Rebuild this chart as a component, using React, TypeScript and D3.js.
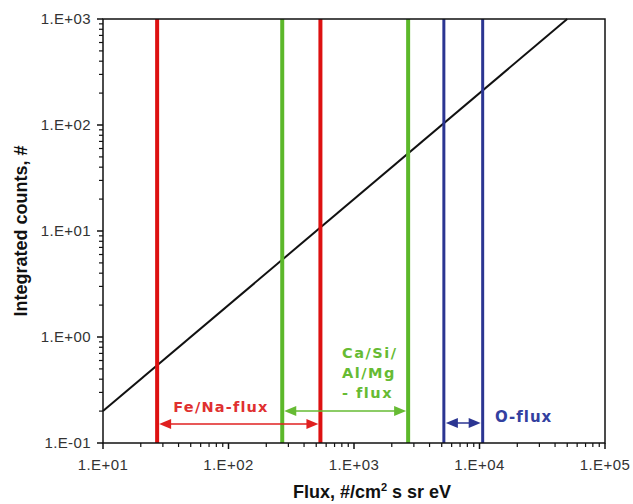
import React from "react";
import * as d3 from "d3";

const xTickValues = [1e1, 1e2, 1e3, 1e4, 1e5];
const xTickLabels = ["1.E+01", "1.E+02", "1.E+03", "1.E+04", "1.E+05"];
const yTickValues = [1e-1, 1e0, 1e1, 1e2, 1e3];
const yTickLabels = ["1.E-01", "1.E+00", "1.E+01", "1.E+02", "1.E+03"];
const lineFlux = [10, 50000];
const lineCounts = [0.2, 1000];
const redFlux = [27, 540];
const greenFlux = [268, 2700];
const blueFlux = [5200, 10600];
const greenLabel = ["Ca/Si/", "Al/Mg", "- flux"];

const W = 633, H = 504;
const L = 103, R = 605, T = 19, B = 443;

export default function App() {
  const x = d3.scaleLog().domain([10, 1e5]).range([L, R]);
  const y = d3.scaleLog().domain([0.1, 1000]).range([B, T]);
  const minorX: number[] = [];
  for (let e = 1; e < 5; e++) for (let m = 2; m <= 9; m++) minorX.push(m * Math.pow(10, e));
  const minorY: number[] = [];
  for (let e = -1; e < 3; e++) for (let m = 2; m <= 9; m++) minorY.push(m * Math.pow(10, e));
  const line = d3.line<number>().x((d, i) => x(lineFlux[i])).y((d, i) => y(lineCounts[i]));
  const font = "Arial, 'Liberation Sans', sans-serif";
  const afont = "Verdana, 'DejaVu Sans', sans-serif";
  const red = "#dd1111", green = "#5cb82a", blue = "#2b3592";
  const vline = (v: number, c: string, w: number, k: string) => (
    <line key={k} x1={x(v)} x2={x(v)} y1={T} y2={B} stroke={c} strokeWidth={w} />
  );
  const arrow = (x1: number, x2: number, yy: number, c: string, k: string) => {
    const a = 10, h = 5;
    return (
      <g key={k}>
        <line x1={x1 + a} x2={x2 - a} y1={yy} y2={yy} stroke={c} strokeWidth={1.5} />
        <path d={`M${x1},${yy}L${x1 + a + 2},${yy - h}L${x1 + a + 2},${yy + h}Z`} fill={c} />
        <path d={`M${x2},${yy}L${x2 - a - 2},${yy - h}L${x2 - a - 2},${yy + h}Z`} fill={c} />
      </g>
    );
  };
  return (
    <svg width={W} height={H} style={{ position: "absolute", left: 0, top: 0, background: "#fff" }}>
      <rect x={0} y={0} width={W} height={H} fill="#fff" />
      <path d={line([0, 1]) || ""} stroke="#111" strokeWidth={2} fill="none" />
      {redFlux.map((v, i) => vline(v, red, 4, "r" + i))}
      {greenFlux.map((v, i) => vline(v, green, 4, "g" + i))}
      {blueFlux.map((v, i) => vline(v, blue, 3, "b" + i))}
      {arrow(x(redFlux[0]) + 2, x(redFlux[1]) - 2, 424, "#e02020", "ar")}
      {arrow(x(greenFlux[0]) + 2, x(greenFlux[1]) - 2, 411, "#66bb33", "ag")}
      {arrow(x(blueFlux[0]) + 2, x(blueFlux[1]) - 2, 423, blue, "ab")}
      <text x={221} y={412} textAnchor="middle" fill="#e03030" fontFamily={afont} fontWeight="bold" fontSize={14.5} letterSpacing={1.2}>Fe/Na-flux</text>
      <g fill="#66bb33" fontFamily={afont} fontWeight="bold" fontSize={14.5} letterSpacing={1.5}>
        {greenLabel.map((s, i) => <text key={s} x={342} y={358 + i * 20}>{s}</text>)}
      </g>
      <text x={495} y={422} fill="#3340a0" fontFamily={afont} fontWeight="bold" fontSize={15} letterSpacing={1}>O-flux</text>
      <rect x={L} y={T} width={R - L} height={B - T} fill="none" stroke="#111" strokeWidth={1.5} />
      {xTickValues.map((v) => <line key={"xt" + v} x1={x(v)} x2={x(v)} y1={B} y2={B + 6} stroke="#111" strokeWidth={1.5} />)}
      {minorX.map((v) => <line key={"xm" + v} x1={x(v)} x2={x(v)} y1={B} y2={B + 4} stroke="#111" strokeWidth={1.2} />)}
      {yTickValues.map((v) => <line key={"yt" + v} x1={L - 6} x2={L} y1={y(v)} y2={y(v)} stroke="#111" strokeWidth={1.5} />)}
      {minorY.map((v) => <line key={"ym" + v} x1={L - 4} x2={L} y1={y(v)} y2={y(v)} stroke="#111" strokeWidth={1.2} />)}
      {xTickValues.map((v, i) => (
        <text key={"xl" + v} x={x(v)} y={470} textAnchor="middle" fontFamily={font} fontSize={15} letterSpacing={0.4} fill="#333">{xTickLabels[i]}</text>
      ))}
      {yTickValues.map((v, i) => (
        <text key={"yl" + v} x={91} y={y(v) + 5} textAnchor="end" fontFamily={font} fontSize={15} letterSpacing={0.4} fill="#333">{yTickLabels[i]}</text>
      ))}
      <text x={372} y={498} textAnchor="middle" fontFamily={font} fontWeight="bold" fontSize={18} fill="#111">
        Flux, #/cm<tspan fontSize={11} dy={-7}>2</tspan><tspan dy={7}> s sr eV</tspan>
      </text>
      <text transform={`translate(27,231) rotate(-90)`} textAnchor="middle" fontFamily={font} fontWeight="bold" fontSize={18} fill="#111">Integrated counts, #</text>
    </svg>
  );
}
